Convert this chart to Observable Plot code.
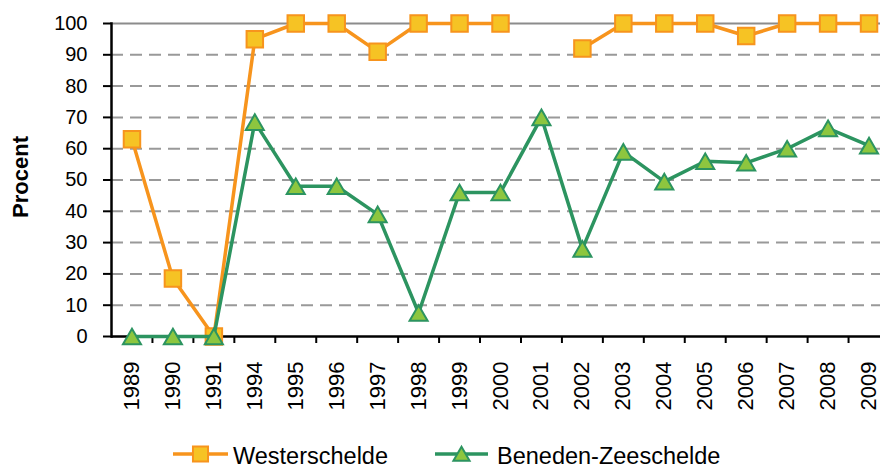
<!DOCTYPE html>
<html>
<head>
<meta charset="utf-8">
<script src="https://cdn.jsdelivr.net/npm/d3@7"></script>
<script src="https://cdn.jsdelivr.net/npm/@observablehq/plot@0.6"></script>
<style>
  html, body { margin: 0; padding: 0; background: #fff; overflow: hidden; }
  #wrap { position: relative; width: 880px; height: 469px; overflow: hidden;
          font-family: "Liberation Sans", Arial, sans-serif; }
  #chart svg { display: block; max-width: none !important; height: 420px !important; }
  #legend { position: absolute; left: 0; top: 420px; }
</style>
</head>
<body>
<div id="wrap"><div id="chart"></div><div id="legend"></div></div>
<script>
// ---- data ----
const years = ["1989","1990","1991","1994","1995","1996","1997","1998","1999","2000",
               "2001","2002","2003","2004","2005","2006","2007","2008","2009"];
const westerschelde     = [63, 18.5, 0, 95, 100, 100, 91, 100, 100, 100, null, 92, 100, 100, 100, 96, 100, 100, 100];
const benedenZeeschelde = [0, 0, 0, 68.5, 48, 48, 39, 7.5, 46, 46, 70, 28, 59, 49.5, 56, 55.5, 60, 66.5, 61];
const seriesNames = ["Westerschelde", "Beneden-Zeeschelde"];
const yTicks = [0, 10, 20, 30, 40, 50, 60, 70, 80, 90, 100];
const yLabel = "Procent";

// ---- styles ----
const orangeLine = "#F7941D", orangeFill = "#F6C324";
const greenLine = "#2C9460", greenFill = "#8DC63F";
const FONT = "Liberation Sans, Arial, sans-serif";

const rows = years.map((y, i) => ({year: y, w: westerschelde[i], b: benedenZeeschelde[i]}));

const W = 889, H = 420, ML = 111;
const bw = (W - ML) / years.length;
const triR = 6.7;

const chart = Plot.plot({
  width: W, height: H,
  marginLeft: ML, marginRight: 0, marginTop: 23, marginBottom: 84,
  style: {fontFamily: FONT, background: "white", color: "#000"},
  x: {type: "band", domain: years, padding: 0, round: false},
  y: {domain: [0, 100]},
  marks: [
    Plot.gridY(yTicks.filter(v => v > 0 && v < 100), {stroke: "#999", strokeOpacity: 1, strokeWidth: 2, strokeDasharray: "12,7"}),
    Plot.ruleY([100], {stroke: "#8c8c8c", strokeWidth: 2}),
    Plot.axisY(yTicks, {tickSize: 8, tickPadding: 16, fontSize: 20, strokeWidth: 2, label: null}),
    Plot.axisX(years, {tickSize: 0, tickPadding: 25, tickRotate: -90, fontSize: 22, label: null}),
    Plot.axisX(years.slice(0, -1), {tickSize: 7, strokeWidth: 2, text: null, label: null, dx: bw / 2}),
    Plot.frame({anchor: "left", stroke: "#000", strokeWidth: 2.5}),
    Plot.ruleY([0], {stroke: "#000", strokeWidth: 2.5}),
    Plot.text([yLabel], {frameAnchor: "left", text: d => d, rotate: -90, dx: -91, dy: -3,
                          textAnchor: "middle", lineAnchor: "middle",
                          fontSize: 22, fontWeight: "bold", fill: "#000"}),
    Plot.line(rows, {x: "year", y: "w", stroke: orangeLine, strokeWidth: 3.5}),
    Plot.dot(rows, {x: "year", y: "w", symbol: "square", r: 9.3, fill: orangeFill, stroke: orangeLine, strokeWidth: 2}),
    Plot.line(rows, {x: "year", y: "b", stroke: greenLine, strokeWidth: 3.5}),
    Plot.dot(rows, {x: "year", y: "b", symbol: "triangle", r: triR, fill: greenFill, stroke: greenLine,
                    strokeWidth: 2, dy: (2.333 * triR) / 6})
  ]
});
document.getElementById("chart").append(chart);

// ---- legend ----
const legendItems = [
  {name: seriesNames[0], line: orangeLine, fill: orangeFill, symbol: d3.symbolSquare, size: Math.PI * 8.5 * 8.5, x0: 173, x1: 228, tx: 233},
  {name: seriesNames[1], line: greenLine, fill: greenFill, symbol: d3.symbolTriangle, size: Math.PI * 6 * 6, x0: 435, x1: 488, tx: 497}
];
const lg = d3.create("svg").attr("width", 880).attr("height", 49).style("display", "block");
for (const it of legendItems) {
  const cy = 34, cx = (it.x0 + it.x1) / 2;
  lg.append("line").attr("x1", it.x0).attr("x2", it.x1).attr("y1", cy).attr("y2", cy)
    .attr("stroke", it.line).attr("stroke-width", 3.5);
  lg.append("path").attr("d", d3.symbol(it.symbol, it.size)())
    .attr("transform", `translate(${cx},${it.symbol === d3.symbolTriangle ? cy + 2 : cy})`)
    .attr("fill", it.fill).attr("stroke", it.line).attr("stroke-width", 2);
  lg.append("text").attr("x", it.tx).attr("y", 44).text(it.name)
    .attr("font-family", FONT).attr("font-size", 23.5).attr("fill", "#000");
}
document.getElementById("legend").append(lg.node());
</script>
</body>
</html>
